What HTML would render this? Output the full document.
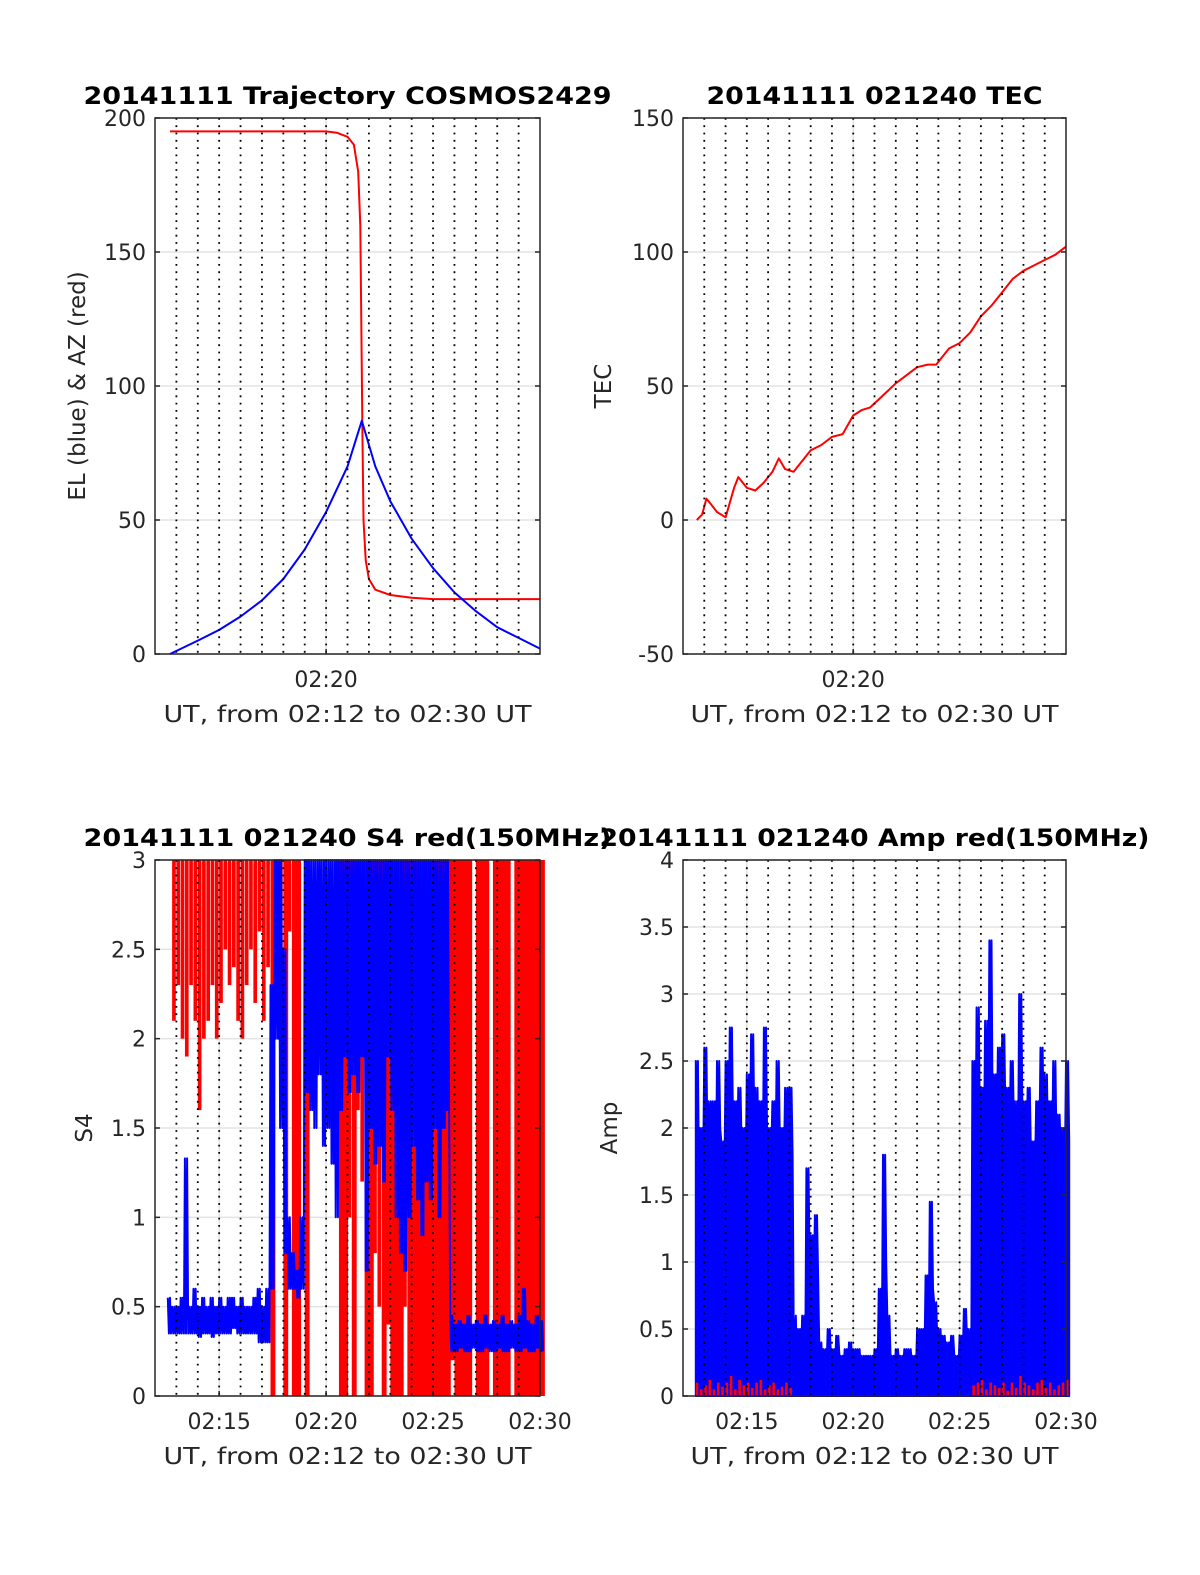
<!DOCTYPE html>
<html><head><meta charset="utf-8"><style>
html,body{margin:0;padding:0;background:#fff}
svg{display:block}
text{font-family:"DejaVu Sans","Liberation Sans",sans-serif;fill:#262626}
</style></head><body>
<svg id="fig" width="1200" height="1575" viewBox="0 0 1200 1575" xmlns="http://www.w3.org/2000/svg"></svg>
<script>
// ---- data (time in minutes after 02:12) ----
const azT=[0.7,8,8.5,9,9.3,9.5,9.6,9.65,9.7,9.75,9.85,10.0,10.3,11,12,13,14,18];
const azV=[195,195,194.5,193,190,180,160,120,80,50,35,28,24,22,21,20.5,20.5,20.5];
const elT=[0.7,2,3,4,5,6,7,8,9,9.67,10.3,11,12,13,14,15,16,17,18];
const elV=[0,5,9,14,20,28,39,53,70,87,70,57,43,32,23,16,10,6,2];
const tecT=[0.65,0.9,1.1,1.3,1.6,2.0,2.4,2.6,3.0,3.4,3.8,4.2,4.5,4.8,5.2,5.6,6.0,6.5,7.0,7.5,8.0,8.4,8.8,9.2,9.6,10.0,10.5,11.0,11.5,11.9,12.2,12.5,13,13.5,14,14.5,15,15.5,16,16.5,17,17.5,18];
const tecV=[0,2,8,6,3,1,12,16,12,11,14,18,23,19,18,22,26,28,31,32,39,41,42,45,48,51,54,57,58,58,61,64,66,70,76,80,85,90,93,95,97,99,102];
// bins every 0.2 min starting at 0.6
const binStart=0.6, binW=0.2;
const s4RedLo=[3,2.1,2.3,2.0,1.9,2.3,2.1,1.6,2.0,2.1,2.3,2.0,2.2,2.5,2.3,2.4,2.1,2.0,2.3,2.5,2.2,2.6,2.1,2.4,0,2.5,1.6,0,2.6,0,0,3,0,3,3,3,3,3,3,2.6,0,0,1.0,0,1.6,1.2,0,0,0.8,0.5,0,0.4,0,0,0,0.5,0,0,0,0,0,0,0,0,0,0,0.2,0,0,0,0,3,0,0,0,3,0,0,0,0,3,0,0,0,0,0,0,0];
const s4BlueHi=[0.55,0.5,0.5,0.55,1.33,0.5,0.6,0.5,0.55,0.5,0.55,0.5,0.55,0.5,0.55,0.55,0.5,0.55,0.5,0.5,0.55,0.6,0.5,0.6,2.3,3,3,2.5,1.0,0.8,0.7,1.0,3,3,3,3,3,3,3,3,3,3,3,3,3,3,3,3,3,3,3,3,3,3,3,3,3,3,3,3,3,3,3,3,3,3,0.45,0.4,0.42,0.4,0.45,0.4,0.42,0.4,0.45,0.4,0.42,0.4,0.45,0.4,0.42,0.4,0.45,0.6,0.42,0.4,0.45,0.42];
const s4BlueLo=[0.35,0.35,0.35,0.35,0.35,0.35,0.35,0.33,0.35,0.35,0.33,0.35,0.35,0.35,0.35,0.38,0.35,0.35,0.35,0.35,0.35,0.3,0.3,0.3,0.6,2.0,1.5,0.8,0.6,0.6,0.55,0.6,1.7,1.6,1.5,1.8,1.4,1.5,1.3,1.0,1.6,1.9,1.7,1.8,1.7,1.9,0.7,1.5,1.3,1.4,1.2,1.9,1.6,1.0,0.8,0.7,1.0,1.4,1.1,0.9,1.2,1.1,1.5,1.0,1.5,1.6,0.25,0.25,0.27,0.25,0.25,0.27,0.25,0.25,0.27,0.25,0.25,0.27,0.25,0.25,0.27,0.25,0.25,0.27,0.25,0.25,0.27,0.25];
const ampHi=[2.5,2.0,2.6,2.2,2.2,2.5,1.9,2.5,2.75,2.2,2.3,2.0,2.4,2.7,2.3,2.2,2.75,2.0,2.2,2.5,2.0,2.3,2.3,0.6,0.5,0.6,1.7,1.2,1.35,0.4,0.35,0.5,0.35,0.45,0.3,0.35,0.4,0.35,0.35,0.3,0.3,0.3,0.35,0.8,1.8,0.6,0.3,0.35,0.3,0.35,0.35,0.3,0.5,0.5,0.9,1.45,0.7,0.5,0.45,0.4,0.45,0.3,0.45,0.65,0.5,2.5,2.9,2.3,2.8,3.4,2.4,2.6,2.7,2.3,2.5,2.2,3.0,2.2,2.3,1.9,2.2,2.6,2.4,2.2,2.5,2.1,2.0,2.5];
const ampLo=[1.6,1.7,1.8,1.9,1.6,2.0,1.7,1.9,2.0,1.8,1.9,1.7,1.9,2.0,1.8,1.7,2.0,1.8,1.7,1.9,1.8,1.9,1.8,0.3,0.3,0.3,1.0,0.8,0.9,0.25,0.2,0.3,0.2,0.3,0.2,0.2,0.25,0.2,0.2,0.2,0.2,0.2,0.25,0.4,1.0,0.3,0.2,0.25,0.2,0.25,0.25,0.2,0.3,0.3,0.5,0.8,0.4,0.3,0.3,0.25,0.3,0.2,0.3,0.4,0.3,1.8,2.0,1.9,2.0,2.1,1.9,2.0,2.1,1.9,2.0,1.8,2.1,1.9,1.8,1.7,1.9,2.0,1.9,1.8,1.9,1.8,1.7,1.9];
const ampRed=[0.1,0.05,0.08,0.12,0.05,0.1,0.07,0.1,0.15,0.05,0.12,0.08,0.1,0.06,0.1,0.12,0.05,0.08,0.1,0.05,0.07,0.1,0.06,0,0,0,0,0,0,0,0,0,0,0,0,0,0,0,0,0,0,0,0,0,0,0,0,0,0,0,0,0,0,0,0,0,0,0,0,0,0,0,0,0,0,0.08,0.1,0.12,0.05,0.1,0.08,0.06,0.1,0.04,0.1,0.06,0.15,0.1,0.08,0.05,0.1,0.12,0.06,0.1,0.05,0.08,0.1,0.12];
const ytTL=[0,50,100,150,200], ytTR=[-50,0,50,100,150];
const ytBL=[0,0.5,1,1.5,2,2.5,3], ytBR=[0,0.5,1,1.5,2,2.5,3,3.5,4];

const NS="http://www.w3.org/2000/svg";
const svg=document.getElementById('fig');
function el(tag,attrs,parent){const e=document.createElementNS(NS,tag);for(const k in attrs)e.setAttribute(k,attrs[k]);(parent||svg).appendChild(e);return e;}

function panel(name,x0,y0,x1,y1,ymin,ymax,yticks,xtickLabels){
  const g=el('g',{});
  
  
  const X=t=>x0+(t)/18*(x1-x0);
  const Y=v=>y1-(v-ymin)/(ymax-ymin)*(y1-y0);
  yticks.forEach(v=>{const l=el('line',{x1:x0,x2:x1,y1:Y(v),y2:Y(v),stroke:'#e3e3e3','stroke-width':1.5},g);
    });
  const major=xtickLabels.map(s=>+s.split(':')[1]-12);
  major.forEach(t=>{if(t<18){const l=el('line',{x1:X(t),x2:X(t),y1:y0,y2:y1,stroke:'#e3e3e3','stroke-width':1.5},g);
    }});
  return {g,X,Y,x0,x1,y0,y1,yticks,xtickLabels,ymin,ymax,major};
}
function finish(p){
  const {g,X,Y,x0,x1,y0,y1}=p;
  for(let m=1;m<18;m++){const l=el('line',{x1:X(m),x2:X(m),y1:y0,y2:y1,stroke:'#000','stroke-width':1.8,'stroke-dasharray':'1.8 5.5'},g);
    }
  const b=el('rect',{x:x0,y:y0,width:x1-x0,height:y1-y0,fill:'none',stroke:'#262626','stroke-width':1.5},g);
  
  p.yticks.forEach(v=>{
    el('line',{x1:x0,x2:x0+5,y1:Y(v),y2:Y(v),stroke:'#262626','stroke-width':1.5},g);
    el('line',{x1:x1,x2:x1-5,y1:Y(v),y2:Y(v),stroke:'#262626','stroke-width':1.5},g);
    const t=el('text',{x:x0-9,y:Y(v)+8,'text-anchor':'end','font-size':22},g);t.textContent=String(v);
    });
  p.xtickLabels.forEach((s,i)=>{const t0=p.major[i];
    el('line',{x1:X(t0),x2:X(t0),y1:y1,y2:y1-5,stroke:'#262626','stroke-width':1.5},g);
    const t=el('text',{x:X(t0),y:y1+33,'text-anchor':'middle','font-size':22},g);t.textContent=s;
    });
  const cx=(x0+x1)/2;
  const xl=el('text',{x:cx,y:y1+68,'text-anchor':'middle','font-size':23,textLength:368,lengthAdjust:'spacingAndGlyphs'},g);
  xl.textContent='UT, from 02:12 to 02:30 UT';
  const tt=el('text',{x:cx,y:y0-14,'text-anchor':'middle','font-size':24,'font-weight':'bold'},g);
  tt.textContent=p.title.text;tt.setAttribute('textLength',p.title.len);tt.setAttribute('lengthAdjust','spacingAndGlyphs');
  tt.style.fill='#000';
  const yl=el('text',{x:0,y:0,'text-anchor':'middle','font-size':23,transform:`translate(${p.ylabel.x},${(y0+y1)/2}) rotate(-90)`},g);
  yl.textContent=p.ylabel.text;
}
function line(p,T,V,color,name,w){
  const pts=T.map((t,i)=>p.X(t).toFixed(1)+','+p.Y(V[i]).toFixed(1)).join(' ');
  const l=el('polyline',{points:pts,fill:'none',stroke:color,'stroke-width':w||2,'stroke-linejoin':'round'},p.g);
  
}
// dense zigzag: hi, lo, hi, lo within each bin
function zigT(n){const T=[];for(let i=0;i<n;i++){for(let k=0;k<4;k++)T.push(binStart+i*binW+k*binW/4);}return T;}
function zigV(hi,lo){const V=[];hi.forEach((h,i)=>{V.push(h);V.push(lo[i]);V.push(h);V.push(lo[i]);});return V;}

// Top-left
const p1=panel('trajectory-panel',155,118,540,654,0,200,ytTL,['02:20']);
p1.title={text:'20141111 Trajectory COSMOS2429',len:528};p1.ylabel={text:'EL (blue) & AZ (red)',x:85};
line(p1,azT,azV,'#ff0000','azimuth-line');
line(p1,elT,elV,'#0000ff','elevation-line');
finish(p1);

// Top-right
const p2=panel('tec-panel',683,118,1066,654,-50,150,ytTR,['02:20']);
p2.title={text:'20141111 021240 TEC',len:336};p2.ylabel={text:'TEC',x:611};
line(p2,tecT,tecV,'#ff0000','tec-line');
finish(p2);

// Bottom-left
const p3=panel('s4-panel',155,860,540,1396,0,3,ytBL,['02:15','02:20','02:25','02:30']);
p3.title={text:'20141111 021240 S4 red(150MHz)',len:528};p3.ylabel={text:'S4',x:92};
s4RedLo.forEach((lo,i)=>{if(lo>=3)return;const t=binStart+i*binW;
  const r=el('rect',{x:p3.X(t),y:p3.Y(3),width:p3.X(t+binW)-p3.X(t)+(lo<0.5?0.6:-0.6),height:p3.Y(lo)-p3.Y(3),fill:'#ff0000'},p3.g);
  });
line(p3,zigT(s4BlueHi.length),zigV(s4BlueHi,s4BlueLo),'#0000ff','s4-blue-line',2);
finish(p3);

// Bottom-right
const p4=panel('amp-panel',683,860,1066,1396,0,4,ytBR,['02:15','02:20','02:25','02:30']);
p4.title={text:'20141111 021240 Amp red(150MHz)',len:550};p4.ylabel={text:'Amp',x:617};
{const T=zigT(ampHi.length),V=zigV(ampHi,ampLo);
 let pts=p4.X(T[0]).toFixed(1)+','+p4.Y(0);
 T.forEach((t,i)=>{pts+=' '+p4.X(t).toFixed(1)+','+p4.Y(V[i]).toFixed(1);});
 pts+=' '+p4.X(T[T.length-1]).toFixed(1)+','+p4.Y(0);
 const a=el('polygon',{points:pts,fill:'#0000ff',stroke:'#0000ff','stroke-width':2,'stroke-linejoin':'round'},p4.g);
 }
ampRed.forEach((v,i)=>{if(v<=0)return;const t=binStart+i*binW;
  const r=el('rect',{x:p4.X(t),y:p4.Y(v),width:p4.X(t+binW*0.6)-p4.X(t),height:p4.Y(0)-p4.Y(v),fill:'#ff0000'},p4.g);
  });
finish(p4);
</script>
</body></html>
